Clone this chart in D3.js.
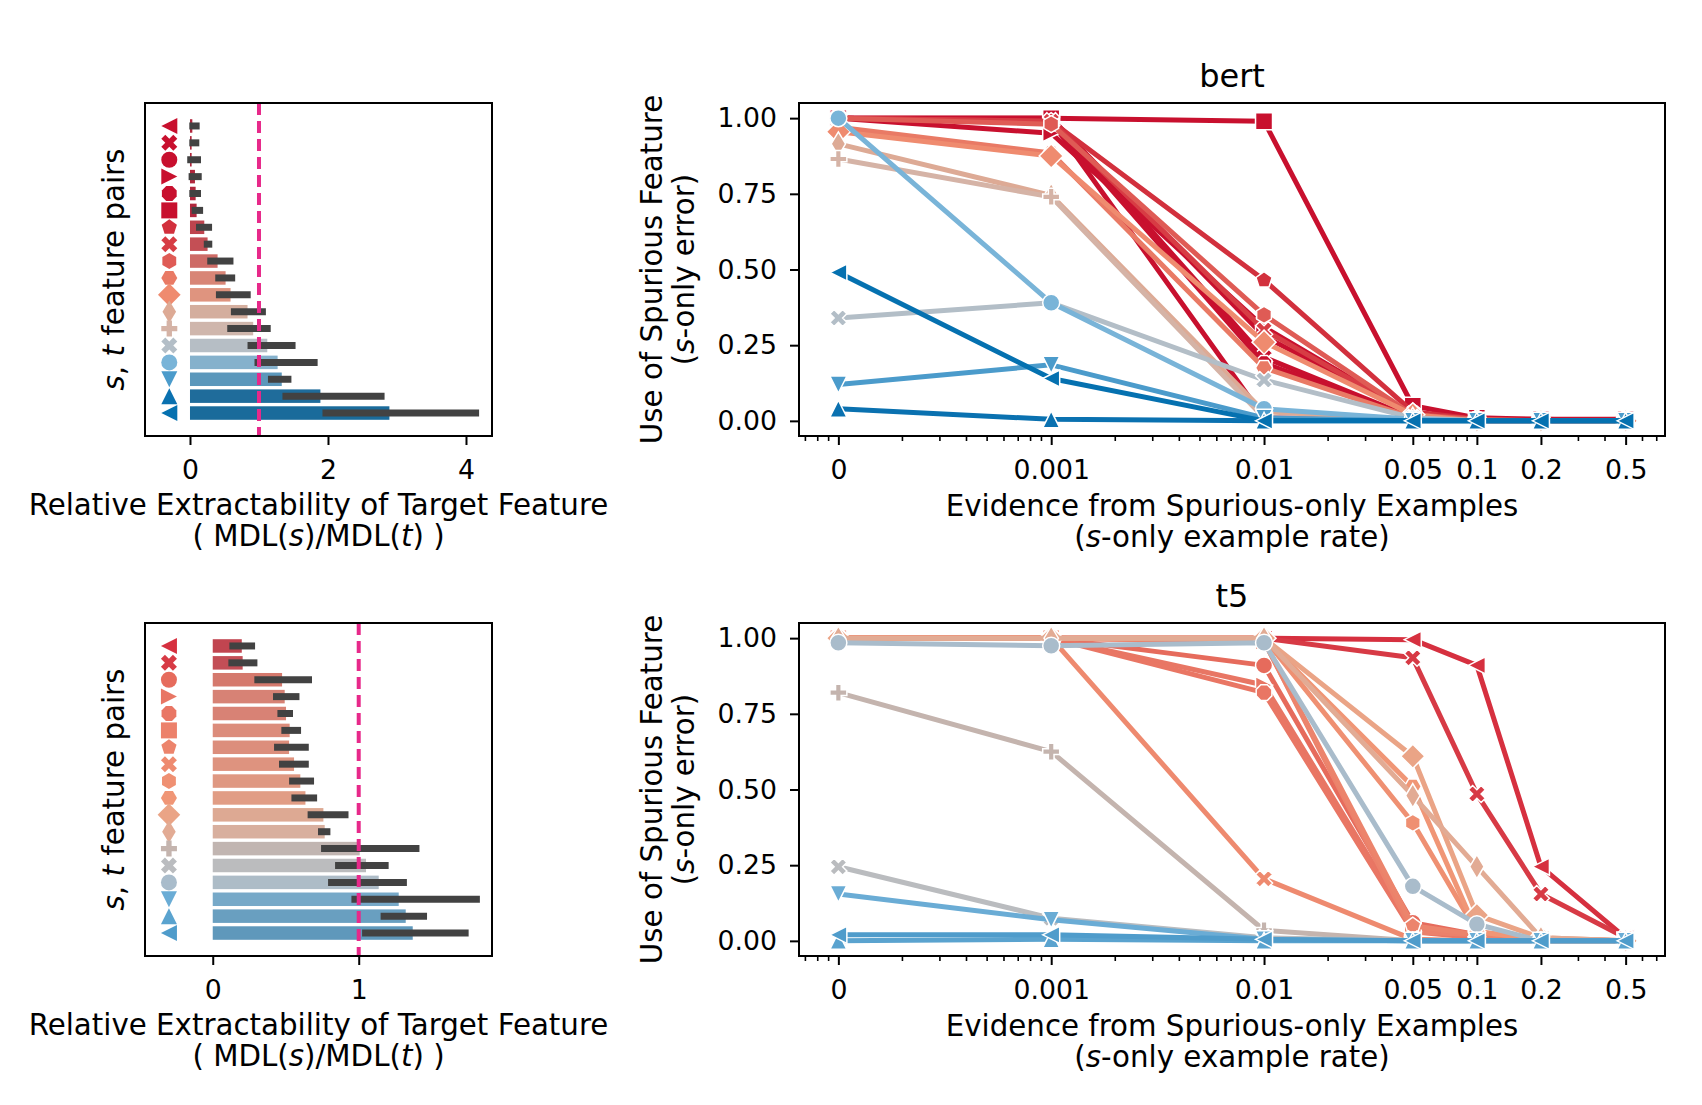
<!DOCTYPE html>
<html>
<head>
<meta charset="utf-8">
<script src="https://cdn.jsdelivr.net/npm/d3@7"></script>
<style>
  body { margin: 0; background: #fff; }
  svg { display: block; font-family: "DejaVu Sans", sans-serif; }
</style>
</head>
<body>
<svg id="fig" width="1702" height="1105"></svg>
<script>
// one entry per (s, t) feature pair, top row of the bar charts first
var markers = ['<', 'X', 'o', '>', '8', 's', 'p', 'X', 'h', 'H', 'D', 'd', 'P', 'X', 'o', 'v', '^', '<'];

// x positions of the line plots ("0" is drawn at 1e-4 on the log axis)
var rates = [0.0001, 0.001, 0.01, 0.05, 0.1, 0.2, 0.5];
var rateLabels = ['0', '0.001', '0.01', '0.05', '0.1', '0.2', '0.5'];
var errTicks = [0, 0.25, 0.5, 0.75, 1];

// ---- bert ----
var bertColors = ['#c8102e', '#c8102e', '#c8102e', '#c8102e', '#c8102e', '#c8102e', '#d2303d', '#d73c44',
    '#df5b55', '#e97a65', '#ef8b6f', '#ddaa95', '#d5b3a6', '#b3bec7', '#79b4d8', '#4b9bcb', '#0a71b0', '#0571b0'];
var bertMdl = [0.034, 0.024, 0.024, 0.072, 0.082, 0.096, 0.207, 0.255, 0.40, 0.516, 0.588, 0.834, 0.916,
    1.12, 1.27, 1.33, 1.89, 2.89];
var bertMdlLo = [-0.01, -0.01, -0.04, -0.02, -0.01, 0.024, 0.087, 0.20, 0.25, 0.366, 0.376, 0.593, 0.54,
    0.834, 0.935, 1.13, 1.34, 1.92];
var bertMdlHi = [0.14, 0.135, 0.16, 0.17, 0.16, 0.19, 0.32, 0.323, 0.63, 0.655, 0.88, 1.10, 1.17,
    1.53, 1.85, 1.47, 2.82, 4.19];
var bertErr = [
    [1.0, 1.0, 0.28, 0.02, 0.005, 0.005, 0.0],
    [1.0, 1.0, 0.21, 0.01, 0.005, 0.0, 0.0],
    [1.0, 0.99, 0.01, 0.005, 0.0, 0.0, 0.0],
    [1.0, 0.95, 0.31, 0.02, 0.005, 0.0, 0.0],
    [1.0, 0.99, 0.19, 0.01, 0.0, 0.0, 0.0],
    [1.0, 1.0, 0.99, 0.05, 0.01, 0.005, 0.005],
    [1.0, 0.99, 0.465, 0.03, 0.005, 0.0, 0.0],
    [1.0, 0.99, 0.30, 0.02, 0.0, 0.0, 0.0],
    [1.0, 0.98, 0.35, 0.02, 0.005, 0.0, 0.0],
    [0.97, 0.885, 0.175, 0.01, 0.0, 0.0, 0.0],
    [0.955, 0.875, 0.26, 0.02, 0.0, 0.0, 0.0],
    [0.915, 0.745, 0.03, 0.005, 0.0, 0.0, 0.0],
    [0.865, 0.74, 0.01, 0.0, 0.0, 0.0, 0.0],
    [0.34, 0.39, 0.135, 0.01, 0.0, 0.0, 0.0],
    [1.0, 0.39, 0.04, 0.005, 0.0, 0.0, 0.0],
    [0.12, 0.185, 0.01, 0.0, 0.0, 0.0, 0.0],
    [0.04, 0.005, 0.0, 0.0, 0.0, 0.0, 0.0],
    [0.49, 0.14, 0.0, 0.0, 0.0, 0.0, 0.0]
];

// ---- t5 ----
var t5Colors = ['#d6303f', '#d73a45', '#e66b5c', '#e87664', '#e97664', '#ec816b', '#ec846c', '#ee8a6f',
    '#ef9072', '#f09676', '#eaa486', '#e2ab94', '#c4b4ae', '#babcbf', '#a9bccb', '#6aacd5', '#5aa3cf', '#4f9ccb'];
var t5Mdl = [0.199, 0.205, 0.475, 0.493, 0.502, 0.527, 0.523, 0.557, 0.60, 0.635, 0.758, 0.767, 1.007,
    1.05, 1.137, 1.274, 1.322, 1.37];
var t5MdlLo = [0.114, 0.107, 0.285, 0.413, 0.443, 0.47, 0.42, 0.454, 0.523, 0.539, 0.65, 0.721, 0.742,
    0.838, 0.79, 0.95, 1.15, 1.023];
var t5MdlHi = [0.29, 0.306, 0.68, 0.594, 0.55, 0.605, 0.658, 0.658, 0.694, 0.715, 0.93, 0.806, 1.416,
    1.205, 1.33, 1.83, 1.468, 1.753];
var t5Err = [
    [1.0, 1.0, 1.0, 0.995, 0.91, 0.245, 0.01],
    [1.0, 1.0, 1.0, 0.935, 0.485, 0.155, 0.01],
    [1.0, 1.0, 0.91, 0.06, 0.02, 0.005, 0.0],
    [1.0, 1.0, 0.845, 0.04, 0.01, 0.0, 0.0],
    [1.0, 1.0, 0.82, 0.03, 0.01, 0.0, 0.0],
    [1.0, 1.0, 0.99, 0.03, 0.02, 0.005, 0.0],
    [1.0, 1.0, 0.99, 0.05, 0.02, 0.005, 0.0],
    [1.0, 1.0, 0.205, 0.005, 0.0, 0.0, 0.0],
    [1.0, 1.0, 1.0, 0.39, 0.03, 0.005, 0.0],
    [1.0, 1.0, 1.0, 0.51, 0.03, 0.005, 0.0],
    [1.0, 1.0, 1.0, 0.61, 0.085, 0.01, 0.0],
    [1.0, 1.0, 1.0, 0.48, 0.245, 0.01, 0.0],
    [0.82, 0.625, 0.035, 0.0, 0.0, 0.0, 0.0],
    [0.245, 0.075, 0.01, 0.0, 0.0, 0.0, 0.0],
    [0.985, 0.975, 0.985, 0.18, 0.055, 0.0, 0.0],
    [0.155, 0.07, 0.005, 0.0, 0.0, 0.0, 0.0],
    [0.0, 0.005, 0.0, 0.0, 0.0, 0.0, 0.0],
    [0.02, 0.02, 0.005, 0.0, 0.0, 0.0, 0.0]
];

var panels = [
    {title: 'bert', top: 103, colors: bertColors, mdl: bertMdl, lo: bertMdlLo, hi: bertMdlHi, err: bertErr,
        mdlDomain: [-0.652, 4.377], mdlTicks: [0, 2, 4]},
    {title: 't5', top: 623, colors: t5Colors, mdl: t5Mdl, lo: t5MdlLo, hi: t5MdlHi, err: t5Err,
        mdlDomain: [-0.464, 1.913], mdlTicks: [0, 1]}
];

var TICK_FONT = 26.7;
var LABEL_FONT = 29.3;
var TITLE_FONT = 32;
var barLeft = 145, barRight = 492;
var lineLeft = 799, lineRight = 1665;
var axH = 333;

var svg = d3.select('#fig');
svg.append('rect').attr('width', 1702).attr('height', 1105).attr('fill', '#fff');

function desaturate(c, prop) {
    var h = d3.hsl(c);
    h.s = h.s * prop;
    return h.formatHex();
}

// matplotlib-like marker outlines, s = nominal marker size in px
function markerPath(m, s) {
    var r = s / 2, pts;
    function poly(n, rot) {
        var a = [];
        for (var k = 0; k < n; k++) {
            var t = (rot + 90 + k * 360 / n) * Math.PI / 180;
            a.push([r * Math.cos(t), -r * Math.sin(t)]);
        }
        return a;
    }
    if (m === 'o')
        return 'M' + r + ',0A' + r + ',' + r + ' 0 1,1 ' + (-r) + ',0A' + r + ',' + r + ' 0 1,1 ' + r + ',0Z';
    if (m === 's') pts = [[-r, -r], [r, -r], [r, r], [-r, r]];
    if (m === '^') pts = [[0, -r], [r, r], [-r, r]];
    if (m === 'v') pts = [[0, r], [r, -r], [-r, -r]];
    if (m === '<') pts = [[-r, 0], [r, -r], [r, r]];
    if (m === '>') pts = [[r, 0], [-r, -r], [-r, r]];
    if (m === 'p') pts = poly(5, 0);
    if (m === 'h') pts = poly(6, 0);
    if (m === 'H') pts = poly(6, 30);
    if (m === '8') pts = poly(8, 22.5);
    if (m === 'D') pts = [[0, -r * 1.414], [r * 1.414, 0], [0, r * 1.414], [-r * 1.414, 0]];
    if (m === 'd') pts = [[0, -r * 1.414], [r * 0.849, 0], [0, r * 1.414], [-r * 0.849, 0]];
    if (m === 'P')
        pts = [[-1, -3], [1, -3], [1, -1], [3, -1], [3, 1], [1, 1], [1, 3], [-1, 3], [-1, 1], [-3, 1], [-3, -1], [-1, -1]]
            .map(function (q) { return [q[0] * s / 6, q[1] * s / 6]; });
    if (m === 'X')
        pts = [[-1, -2], [0, -1], [1, -2], [2, -1], [1, 0], [2, 1], [1, 2], [0, 1], [-1, 2], [-2, 1], [-1, 0], [-2, -1]]
            .map(function (q) { return [q[0] * s / 4, q[1] * s / 4]; });
    return 'M' + pts.join('L') + 'Z';
}

function styleAxis(g) {
    g.attr('font-family', '"DejaVu Sans", sans-serif').attr('font-size', TICK_FONT);
    g.select('.domain').remove();
    g.selectAll('.tick line').attr('stroke', '#000').attr('stroke-width', 2);
    g.selectAll('.tick text').attr('fill', '#000');
}

// text with italic pieces: parts = [[str, italic], ...]
function richText(parent, x, y, parts, rotate) {
    var t = parent.append('text')
        .attr('text-anchor', 'middle')
        .attr('font-size', LABEL_FONT)
        .attr('fill', '#000');
    if (rotate) t.attr('transform', 'translate(' + x + ',' + y + ') rotate(-90)');
    else t.attr('x', x).attr('y', y);
    parts.forEach(function (p) {
        t.append('tspan').attr('font-style', p[1] ? 'italic' : 'normal').text(p[0]);
    });
    return t;
}

function drawBars(p) {
    var g = svg.append('g');
    var top = p.top, bottom = p.top + axH;
    var x = d3.scaleLinear().domain(p.mdlDomain).range([barLeft, barRight]);
    var y = d3.scaleLinear().domain([-1.36, 18.36]).range([top, bottom]);
    var bandH = 0.8 * (y(1) - y(0));

    p.mdl.forEach(function (v, i) {
        g.append('rect')
            .attr('x', x(0)).attr('y', y(i) - bandH / 2)
            .attr('width', x(v) - x(0)).attr('height', bandH)
            .attr('fill', desaturate(p.colors[i], 0.75));
    });
    p.lo.forEach(function (v, i) {
        g.append('line')
            .attr('x1', x(v)).attr('x2', x(p.hi[i]))
            .attr('y1', y(i)).attr('y2', y(i))
            .attr('stroke', '#424242').attr('stroke-width', 7);
    });
    markers.forEach(function (m, i) {
        g.append('path')
            .attr('d', markerPath(m, 16))
            .attr('transform', 'translate(' + x(-0.3) + ',' + y(i) + ')')
            .attr('fill', p.colors[i]);
    });
    g.append('line')
        .attr('x1', x(1)).attr('x2', x(1)).attr('y1', top).attr('y2', bottom)
        .attr('stroke', '#e7298a').attr('stroke-width', 4).attr('stroke-dasharray', '12,6');

    g.append('g').attr('transform', 'translate(0,' + bottom + ')')
        .call(d3.axisBottom(x).tickValues(p.mdlTicks).tickFormat(d3.format('d')).tickSize(9).tickPadding(15))
        .call(styleAxis);

    g.append('rect').attr('x', barLeft).attr('y', top).attr('width', barRight - barLeft).attr('height', axH)
        .attr('fill', 'none').attr('stroke', '#000').attr('stroke-width', 2);

    var cx = (barLeft + barRight) / 2;
    richText(g, cx, bottom + 79, [['Relative Extractability of Target Feature', false]]);
    richText(g, cx, bottom + 110, [['( MDL(', false], ['s', true], [')/MDL(', false], ['t', true], [') )', false]]);
    richText(g, 124, top + axH / 2, [['s', true], [', ', false], ['t', true], [' feature pairs', false]], true);
}

function drawLines(p) {
    var g = svg.append('g');
    var top = p.top, bottom = p.top + axH;
    var span = Math.log10(rates[rates.length - 1] / rates[0]) * 0.05;
    var lo = rates[0] / Math.pow(10, span), hi = rates[rates.length - 1] * Math.pow(10, span);
    var x = d3.scaleLog().domain([lo, hi]).range([lineLeft, lineRight]);
    var y = d3.scaleLinear().domain([-0.05, 1.05]).range([bottom, top]);
    var line = d3.line()
        .x(function (d, i) { return x(rates[i]); })
        .y(function (d) { return y(d); });

    p.err.forEach(function (row, k) {
        g.append('path')
            .attr('d', line(row))
            .attr('fill', 'none')
            .attr('stroke', p.colors[k])
            .attr('stroke-width', 5)
            .attr('stroke-linejoin', 'round');
        row.forEach(function (v, i) {
            g.append('path')
                .attr('d', markerPath(markers[k], 17))
                .attr('transform', 'translate(' + x(rates[i]) + ',' + y(v) + ')')
                .attr('fill', p.colors[k])
                .attr('stroke', '#fff')
                .attr('stroke-width', 1.5);
        });
    });

    // log minor ticks
    var minor = [];
    for (var e = -5; e <= 0; e++) {
        for (var m = 1; m <= 9; m++) {
            var v = m * Math.pow(10, e);
            var isMajor = rates.some(function (r) { return Math.abs(r - v) / r < 1e-6; });
            if (v >= lo && v <= hi && !isMajor) minor.push(v);
        }
    }
    g.selectAll('line.minor').data(minor).enter().append('line')
        .attr('class', 'minor')
        .attr('x1', function (d) { return x(d); }).attr('x2', function (d) { return x(d); })
        .attr('y1', bottom).attr('y2', bottom + 5)
        .attr('stroke', '#000').attr('stroke-width', 1.6);

    g.append('g').attr('transform', 'translate(0,' + bottom + ')')
        .call(d3.axisBottom(x).tickValues(rates).tickFormat(function (d, i) { return rateLabels[i]; })
            .tickSize(9).tickPadding(15))
        .call(styleAxis);
    g.append('g').attr('transform', 'translate(' + lineLeft + ',0)')
        .call(d3.axisLeft(y).tickValues(errTicks).tickFormat(d3.format('.2f')).tickSize(9).tickPadding(13))
        .call(styleAxis);

    g.append('rect').attr('x', lineLeft).attr('y', top).attr('width', lineRight - lineLeft).attr('height', axH)
        .attr('fill', 'none').attr('stroke', '#000').attr('stroke-width', 2);

    var cx = (lineLeft + lineRight) / 2;
    g.append('text').attr('x', cx).attr('y', top - 16).attr('text-anchor', 'middle')
        .attr('font-size', TITLE_FONT).attr('fill', '#000').text(p.title);
    richText(g, cx, bottom + 80, [['Evidence from Spurious-only Examples', false]]);
    richText(g, cx, bottom + 111, [['(', false], ['s', true], ['-only example rate)', false]]);
    richText(g, 662, top + axH / 2, [['Use of Spurious Feature', false]], true);
    richText(g, 694, top + axH / 2, [['(', false], ['s', true], ['-only error)', false]], true);
}

panels.forEach(function (p) {
    drawBars(p);
    drawLines(p);
});
</script>
</body>
</html>
